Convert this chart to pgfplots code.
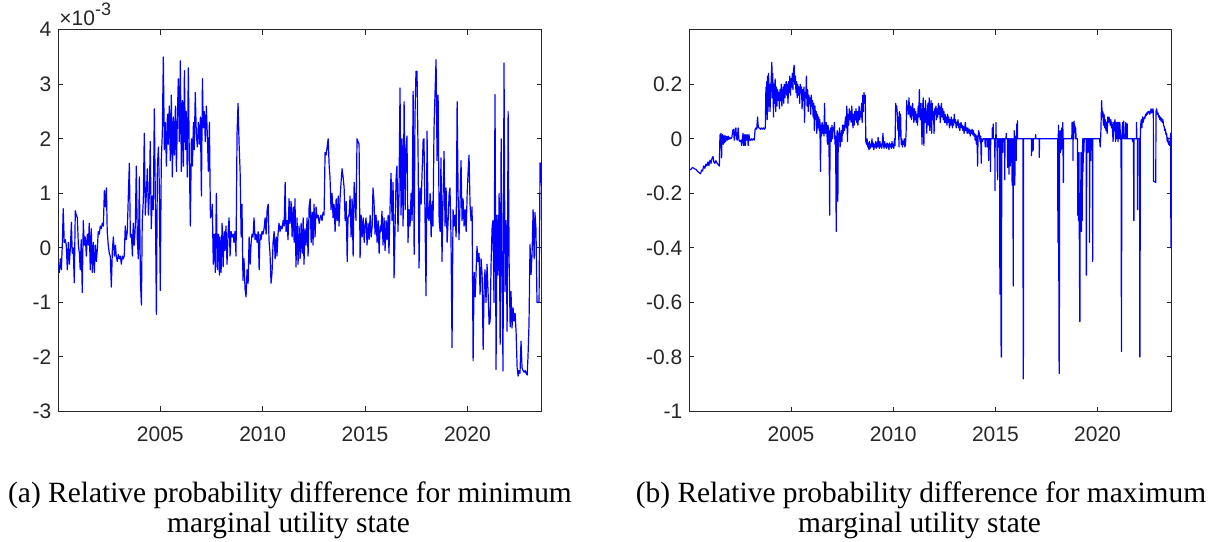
\documentclass[border=0pt]{standalone}
\usepackage{pgfplots}
\pgfplotsset{compat=1.18}
\usepackage{fontspec}
\setmainfont{Liberation Serif}
\newfontfamily\ticksans{Liberation Sans}
\definecolor{axgray}{rgb}{0.15,0.15,0.15}

\pgfplotsset{
  tsaxis/.style={
    scale only axis,
    anchor=north west,
    height=190.9pt,
    xmin=2000.02, xmax=2023.63,
    xtick={2005,2010,2015,2020},
    xticklabels={2005,2010,2015,2020},
    tick align=inside,
    major tick length=2.5pt,
    minor tick num=0,
    axis line style={draw=axgray, line width=0.5pt},
    every tick/.style={draw=axgray, line width=0.5pt},
    tick label style={font=\ticksans\fontsize{10.5}{12}\selectfont, text=axgray},
    xticklabel style={yshift=-4pt},
    clip=true,
  },
  tsline/.style={blue, line width=0.6pt, line join=round, mark=none},
}

\begin{document}
\begin{tikzpicture}
\useasboundingbox (0,0) rectangle (609.5pt,-270.5pt);

% ---------------- (a) minimum marginal utility state, values in units of 1e-3
\begin{axis}[tsaxis, at={(29.15pt,-14.85pt)}, width=241.7pt,
  ymin=-3, ymax=4, ytick={-3,-2,-1,0,1,2,3,4},
  yticklabels={-3,-2,-1,0,1,2,3,4}]
\addplot[tsline] coordinates {
(2000.02,-0.30)(2000.07,-0.45)(2000.12,-0.20)(2000.17,-0.40)(2000.22,0.10)(2000.26,0.72)(2000.31,0.10)(2000.36,0.15)
(2000.41,0.05)(2000.46,-0.40)(2000.51,0.10)(2000.56,-0.30)(2000.61,0.00)(2000.66,0.47)(2000.70,-0.10)(2000.75,0.00)
(2000.80,-0.64)(2000.85,0.68)(2000.90,0.60)(2000.95,0.55)(2001.00,0.05)(2001.05,-0.10)(2001.09,-0.40)(2001.14,0.15)
(2001.19,-0.82)(2001.24,0.50)(2001.29,0.05)(2001.34,0.20)(2001.39,-0.15)(2001.44,0.25)(2001.49,0.05)(2001.53,0.45)
(2001.58,-0.40)(2001.63,0.35)(2001.68,-0.45)(2001.73,0.10)(2001.78,-0.45)(2001.83,0.05)(2001.88,-0.25)(2001.93,0.00)
(2001.97,0.30)(2002.02,0.25)(2002.07,0.40)(2002.12,0.35)(2002.17,0.45)(2002.22,0.40)(2002.27,1.05)(2002.32,0.75)
(2002.37,1.10)(2002.41,0.30)(2002.46,0.05)(2002.51,-0.10)(2002.56,-0.15)(2002.61,-0.72)(2002.66,-0.05)(2002.71,0.20)
(2002.76,-0.15)(2002.81,0.05)(2002.85,-0.15)(2002.90,-0.25)(2002.95,-0.12)(2003.00,-0.20)(2003.05,-0.15)(2003.10,-0.30)
(2003.15,-0.15)(2003.20,-0.20)(2003.24,-0.15)(2003.29,0.40)(2003.34,0.15)(2003.39,0.30)(2003.44,0.95)(2003.49,1.55)
(2003.54,0.20)(2003.59,0.25)(2003.64,-0.15)(2003.68,0.45)(2003.73,0.05)(2003.78,0.40)(2003.83,1.50)(2003.88,0.15)
(2003.93,-0.20)(2003.98,1.30)(2004.03,-0.60)(2004.08,-1.05)(2004.12,0.50)(2004.17,0.85)(2004.22,2.10)(2004.27,0.60)
(2004.32,1.00)(2004.37,1.45)(2004.42,0.60)(2004.47,1.00)(2004.51,1.95)(2004.56,0.35)(2004.61,0.95)(2004.66,0.70)
(2004.71,2.55)(2004.76,0.90)(2004.81,-1.22)(2004.86,1.50)(2004.91,1.85)(2004.95,1.20)(2005.00,-0.78)(2005.05,1.60)
(2005.10,2.10)(2005.15,3.50)(2005.20,1.80)(2005.25,2.30)(2005.30,1.50)(2005.35,2.45)(2005.39,1.90)(2005.44,2.60)
(2005.49,1.60)(2005.54,2.80)(2005.59,1.30)(2005.64,2.40)(2005.69,1.70)(2005.74,2.60)(2005.79,1.40)(2005.83,2.30)
(2005.88,3.10)(2005.93,1.95)(2005.98,3.43)(2006.03,1.40)(2006.08,2.70)(2006.13,1.50)(2006.18,3.25)(2006.23,1.80)
(2006.27,2.50)(2006.32,1.30)(2006.37,3.30)(2006.42,1.60)(2006.47,0.40)(2006.52,2.00)(2006.57,1.50)(2006.62,2.30)
(2006.66,1.80)(2006.71,2.85)(2006.76,2.10)(2006.81,1.85)(2006.86,2.30)(2006.91,1.90)(2006.96,2.40)(2007.01,0.95)
(2007.06,3.10)(2007.10,2.20)(2007.15,2.50)(2007.20,1.95)(2007.25,2.60)(2007.30,2.05)(2007.35,1.40)(2007.40,2.30)
(2007.45,0.55)(2007.50,0.60)(2007.54,0.80)(2007.59,-0.30)(2007.64,0.25)(2007.69,-0.45)(2007.74,1.00)(2007.79,-0.40)
(2007.84,0.25)(2007.89,-0.50)
(2007.92,0.20)(2007.97,-0.45)(2008.02,0.45)(2008.07,-0.35)(2008.12,0.30)(2008.16,-0.05)(2008.21,0.40)(2008.26,-0.30)
(2008.31,0.25)(2008.36,0.55)(2008.41,-0.15)(2008.46,0.30)(2008.51,0.20)(2008.56,0.25)(2008.60,0.10)(2008.65,0.30)
(2008.70,-0.15)(2008.75,2.10)(2008.80,2.65)(2008.85,1.90)(2008.90,1.40)(2008.95,0.20)(2008.99,0.80)(2009.04,-0.60)
(2009.09,-0.20)(2009.14,-0.75)(2009.19,-0.90)(2009.24,-0.40)(2009.29,-0.65)(2009.34,0.20)(2009.39,-0.30)(2009.43,0.05)
(2009.48,0.25)(2009.53,0.20)(2009.58,0.55)(2009.63,0.15)(2009.68,0.25)(2009.73,0.10)(2009.78,0.30)(2009.83,-0.40)
(2009.87,0.25)(2009.92,0.15)(2009.97,0.30)(2010.02,0.25)(2010.07,0.35)(2010.12,0.55)(2010.17,0.25)(2010.22,0.70)
(2010.27,0.80)(2010.31,0.15)(2010.36,-0.10)(2010.41,-0.65)(2010.46,-0.45)(2010.51,0.10)(2010.56,0.30)(2010.61,-0.20)
(2010.66,0.20)(2010.70,-0.15)(2010.75,0.25)(2010.80,0.45)(2010.85,0.30)(2010.90,0.40)(2010.95,0.35)(2011.00,0.50)
(2011.05,0.40)(2011.10,1.20)(2011.14,0.30)(2011.19,0.50)(2011.24,0.15)(2011.29,0.90)(2011.34,0.45)(2011.39,0.85)
(2011.44,0.20)(2011.49,0.75)(2011.54,0.10)(2011.58,0.90)(2011.63,-0.35)(2011.68,0.55)(2011.73,-0.30)(2011.78,0.40)
(2011.83,-0.20)(2011.88,0.45)(2011.93,-0.10)(2011.98,0.55)(2012.02,-0.30)(2012.07,0.35)(2012.12,0.05)(2012.17,0.55)
(2012.22,-0.15)(2012.27,0.75)(2012.32,0.90)(2012.37,0.10)(2012.42,0.65)(2012.46,0.05)(2012.51,0.80)(2012.56,0.20)
(2012.61,0.75)(2012.66,0.55)(2012.71,0.60)(2012.76,0.45)(2012.81,0.55)(2012.85,0.60)(2012.90,0.50)(2012.95,0.65)
(2013.00,0.60)(2013.05,1.75)(2013.10,1.70)(2013.15,1.85)(2013.20,2.00)(2013.25,1.50)(2013.29,1.30)(2013.34,0.70)
(2013.39,1.00)(2013.44,0.55)(2013.49,0.80)(2013.54,0.30)(2013.59,0.90)(2013.64,0.50)(2013.69,0.95)(2013.73,0.40)
(2013.78,0.90)(2013.83,1.20)(2013.88,1.45)(2013.93,1.30)(2013.98,1.10)(2014.03,0.50)(2014.08,0.85)(2014.13,-0.25)
(2014.17,0.55)(2014.22,0.60)(2014.27,0.95)(2014.32,0.20)(2014.37,0.90)(2014.42,-0.15)(2014.47,1.20)(2014.52,0.80)
(2014.56,0.50)(2014.61,2.00)(2014.66,1.95)(2014.71,1.90)(2014.76,-0.18)(2014.81,0.60)(2014.86,0.20)(2014.91,0.55)
(2014.96,0.10)(2015.00,0.40)(2015.05,0.55)(2015.10,0.05)(2015.15,0.45)(2015.20,0.15)(2015.25,0.60)(2015.30,0.20)
(2015.35,0.40)(2015.39,1.10)(2015.44,0.85)(2015.49,0.25)(2015.54,0.60)(2015.59,0.10)(2015.64,0.50)(2015.69,-0.10)
(2015.74,0.40)
(2015.78,0.30)(2015.83,0.67)(2015.88,0.05)(2015.93,0.55)(2015.98,-0.05)(2016.03,0.50)(2016.08,0.15)(2016.13,0.60)
(2016.17,-0.10)(2016.22,0.70)(2016.27,1.37)(2016.32,0.50)(2016.37,1.20)(2016.42,-0.55)(2016.47,0.40)(2016.52,1.30)
(2016.56,1.50)(2016.61,0.30)(2016.66,1.00)(2016.71,2.93)(2016.76,0.60)(2016.81,2.00)(2016.86,0.40)(2016.91,2.68)
(2016.96,0.70)(2017.00,1.80)(2017.05,2.05)(2017.10,0.10)(2017.15,0.70)(2017.20,0.40)(2017.25,1.00)(2017.30,0.50)
(2017.35,2.87)(2017.40,-0.12)(2017.44,2.40)(2017.49,3.24)(2017.54,3.24)(2017.59,1.80)(2017.64,-0.37)(2017.69,1.10)
(2017.74,0.80)(2017.79,1.40)(2017.84,1.98)(2017.88,2.00)(2017.93,0.60)(2017.98,-0.88)(2018.03,2.14)(2018.08,0.55)
(2018.13,0.50)(2018.18,1.00)(2018.23,0.20)(2018.28,0.85)(2018.32,0.40)(2018.37,2.17)(2018.42,2.85)(2018.47,3.45)
(2018.52,1.60)(2018.57,2.80)(2018.62,0.50)(2018.67,0.30)(2018.71,1.65)(2018.76,-0.25)(2018.81,0.90)(2018.86,1.77)
(2018.91,0.40)(2018.96,1.10)(2019.01,0.10)(2019.06,0.50)(2019.11,1.00)(2019.15,1.10)(2019.20,0.20)(2019.25,-1.83)
(2019.30,0.70)(2019.35,0.40)(2019.40,0.60)(2019.45,0.20)(2019.50,2.68)(2019.55,0.90)(2019.59,0.15)(2019.64,0.80)
(2019.69,1.60)(2019.74,0.50)(2019.79,0.90)(2019.84,0.40)(2019.89,0.70)(2019.94,0.30)(2019.99,1.00)(2020.03,1.35)
(2020.08,1.70)(2020.13,0.80)(2020.18,0.50)(2020.23,0.75)(2020.28,-2.07)(2020.33,-0.45)(2020.38,-0.90)(2020.42,-0.50)
(2020.47,0.03)(2020.52,-0.25)(2020.57,-0.10)(2020.62,-0.85)(2020.67,-0.20)(2020.72,-0.50)(2020.77,-1.86)(2020.82,-0.70)
(2020.86,-0.40)(2020.91,-1.00)(2020.96,-0.30)(2021.01,-0.80)(2021.06,-1.40)(2021.11,-1.35)(2021.16,-0.25)(2021.21,0.40)
(2021.25,0.50)(2021.30,-1.00)(2021.35,2.81)(2021.40,-2.23)(2021.45,0.60)(2021.50,-0.50)(2021.55,1.00)(2021.60,-1.77)
(2021.65,2.00)(2021.69,-0.30)(2021.74,-2.26)(2021.79,3.39)(2021.84,-0.80)(2021.89,0.50)(2021.94,-1.53)(2021.99,2.50)
(2022.04,-0.30)(2022.09,-1.45)(2022.13,-0.80)(2022.18,-1.47)(2022.23,-1.10)(2022.28,-1.34)(2022.33,-1.20)(2022.38,-1.55)
(2022.43,-2.20)(2022.48,-2.35)(2022.52,-2.25)(2022.57,-2.30)(2022.62,-1.71)(2022.67,-2.20)(2022.72,-2.25)(2022.77,-2.28)
(2022.82,-2.25)(2022.87,-2.30)(2022.92,-2.33)(2022.96,-2.00)(2023.01,-1.40)(2023.06,0.06)(2023.11,-0.49)(2023.16,-0.10)
(2023.21,0.70)(2023.26,-0.20)(2023.30,0.65)(2023.35,0.35)(2023.40,-1.00)(2023.45,-1.00)(2023.50,-1.00)(2023.55,1.56)
(2023.60,1.20)(2023.62,1.55)(2023.63,0.80)
};
\end{axis}

% ---------------- (b) maximum marginal utility state
\begin{axis}[tsaxis, at={(344.65pt,-14.85pt)}, width=241.2pt,
  ymin=-1, ymax=0.4, ytick={-1,-0.8,-0.6,-0.4,-0.2,0,0.2},
  yticklabels={-1,-0.8,-0.6,-0.4,-0.2,0,0.2}]
\addplot[tsline] coordinates {
(2000.02,-0.115)(2000.10,-0.112)(2000.18,-0.105)(2000.27,-0.110)(2000.35,-0.112)(2000.43,-0.120)(2000.51,-0.125)(2000.57,-0.128)
(2000.62,-0.115)(2000.67,-0.118)(2000.72,-0.100)(2000.78,-0.108)(2000.83,-0.093)(2000.88,-0.100)(2000.93,-0.085)(2000.98,-0.098)
(2001.03,-0.078)(2001.08,-0.090)(2001.13,-0.072)(2001.18,-0.065)(2001.22,-0.085)(2001.27,-0.090)(2001.32,-0.080)(2001.38,-0.090)
(2001.44,-0.095)(2001.49,-0.100)(2001.52,0.015)(2001.55,-0.010)(2001.57,0.020)(2001.60,-0.070)(2001.62,-0.005)(2001.65,0.015)
(2001.68,-0.020)(2001.71,0.010)(2001.74,-0.015)(2001.77,0.012)(2001.80,-0.010)(2001.84,0.008)(2001.88,-0.005)(2001.92,0.010)
(2001.96,-0.002)(2002.00,0.005)(2002.05,0.000)(2002.10,0.005)(2002.15,0.030)(2002.18,0.035)(2002.22,-0.005)(2002.27,0.035)
(2002.30,0.040)(2002.33,0.000)(2002.37,-0.005)(2002.41,0.040)(2002.45,-0.005)(2002.50,-0.010)(2002.55,-0.005)(2002.58,-0.025)
(2002.61,-0.005)(2002.65,0.020)(2002.68,-0.025)(2002.72,0.015)(2002.76,-0.025)(2002.79,0.015)(2002.83,-0.005)(2002.87,0.015)
(2002.90,-0.025)(2002.94,0.015)(2002.98,-0.005)(2003.02,-0.005)(2003.06,0.000)(2003.10,-0.005)(2003.15,0.000)(2003.20,-0.005)
(2003.24,0.035)(2003.28,0.040)(2003.32,0.035)(2003.36,0.080)(2003.40,0.040)(2003.45,0.040)(2003.50,0.035)(2003.55,0.040)
(2003.60,0.035)(2003.65,0.040)(2003.70,0.035)(2003.74,0.040)(2003.77,0.190)(2003.79,0.090)(2003.81,0.210)(2003.83,0.070)
(2003.85,0.230)(2003.87,0.100)(2003.90,0.240)(2003.92,0.120)(2003.95,0.200)(2003.97,0.100)(2004.00,0.170)(2004.03,0.220)
(2004.06,0.280)(2004.08,0.150)(2004.10,0.240)(2004.12,0.180)(2004.14,0.080)(2004.17,0.200)(2004.20,0.130)(2004.22,0.220)
(2004.25,0.100)(2004.28,0.190)(2004.31,0.120)(2004.34,0.180)(2004.37,0.140)(2004.40,0.170)(2004.43,0.110)(2004.46,0.180)
(2004.49,0.140)(2004.52,0.200)(2004.55,0.120)(2004.58,0.160)(2004.61,0.190)(2004.64,0.130)(2004.67,0.200)(2004.70,0.150)
(2004.73,0.190)(2004.76,0.210)(2004.79,0.160)(2004.82,0.200)(2004.85,0.130)(2004.88,0.210)(2004.91,0.170)(2004.94,0.230)
(2004.97,0.160)(2005.00,0.220)(2005.03,0.190)(2005.06,0.240)(2005.09,0.180)(2005.12,0.250)(2005.15,0.270)(2005.18,0.200)
(2005.21,0.230)(2005.24,0.170)(2005.27,0.210)(2005.30,0.150)(2005.33,0.200)(2005.36,0.160)(2005.39,0.190)(2005.42,0.130)
(2005.45,0.200)(2005.48,0.170)(2005.51,0.190)(2005.54,0.110)(2005.57,0.180)(2005.60,0.140)(2005.63,0.190)(2005.66,0.060)
(2005.69,0.170)(2005.72,0.150)(2005.75,0.230)(2005.78,0.120)(2005.81,0.180)(2005.84,0.100)(2005.87,0.160)(2005.90,0.130)
(2005.93,0.150)(2005.96,0.090)(2005.99,0.160)(2006.02,0.120)(2006.05,0.140)(2006.08,0.080)(2006.11,0.130)(2006.14,0.030)
(2006.17,0.120)(2006.20,0.070)(2006.23,0.100)(2006.26,0.020)(2006.29,0.090)(2006.32,0.040)(2006.35,0.080)(2006.38,0.030)
(2006.41,0.070)(2006.44,-0.120)(2006.46,0.050)(2006.49,0.010)(2006.52,0.060)(2006.55,0.020)(2006.58,0.050)(2006.61,0.010)
(2006.64,0.130)(2006.66,0.040)(2006.69,0.020)(2006.72,0.060)(2006.75,0.030)(2006.78,-0.020)(2006.81,0.050)(2006.84,0.020)
(2006.87,-0.100)(2006.89,-0.280)(2006.91,0.030)(2006.94,0.040)(2006.97,-0.010)(2007.00,0.050)(2007.03,0.000)(2007.06,0.040)
(2007.09,0.030)(2007.12,0.060)(2007.15,-0.020)(2007.18,0.010)(2007.21,-0.340)(2007.23,0.000)(2007.26,0.030)(2007.29,-0.230)
(2007.31,0.020)(2007.34,-0.010)(2007.37,0.040)(2007.40,-0.030)(2007.43,0.000)(2007.46,0.030)(2007.49,-0.010)(2007.52,0.050)
(2007.55,0.020)(2007.58,0.050)(2007.61,0.030)(2007.64,0.060)(2007.67,0.080)(2007.70,0.040)(2007.73,0.120)(2007.76,-0.010)
(2007.79,0.090)(2007.82,0.050)(2007.85,0.110)(2007.88,0.070)(2007.91,0.100)(2007.94,0.060)(2007.97,0.120)(2008.00,0.080)
(2008.03,0.040)(2008.06,0.090)(2008.09,0.050)(2008.12,0.100)(2008.15,0.070)(2008.18,0.110)(2008.21,0.060)(2008.24,0.100)
(2008.27,0.050)(2008.30,0.080)(2008.33,0.120)(2008.36,0.070)(2008.39,0.100)(2008.42,0.080)(2008.45,0.130)(2008.48,0.060)
(2008.51,0.160)(2008.54,0.100)(2008.57,0.170)(2008.60,0.140)(2008.63,0.160)(2008.66,-0.010)(2008.69,-0.020)(2008.72,0.000)
(2008.75,-0.030)(2008.78,-0.015)(2008.81,-0.040)(2008.84,-0.010)(2008.87,-0.035)(2008.90,-0.020)(2008.93,-0.030)(2008.96,0.000)
(2008.99,-0.030)(2009.02,-0.015)(2009.05,-0.040)(2009.08,-0.020)(2009.11,-0.030)(2009.14,-0.010)(2009.17,-0.035)(2009.20,-0.015)
(2009.23,-0.030)(2009.26,0.005)(2009.29,-0.020)(2009.32,-0.035)(2009.35,-0.010)(2009.38,-0.030)(2009.41,-0.020)(2009.44,-0.035)
(2009.47,-0.010)(2009.50,0.020)(2009.52,-0.020)(2009.55,-0.035)(2009.58,-0.010)(2009.61,-0.030)(2009.64,-0.020)(2009.67,-0.035)
(2009.70,-0.015)(2009.73,-0.030)(2009.76,-0.020)(2009.79,-0.040)(2009.82,-0.015)(2009.85,-0.030)(2009.88,-0.020)(2009.91,-0.035)
(2009.94,-0.010)(2009.97,-0.030)(2010.00,-0.020)(2010.03,-0.035)(2010.06,0.000)(2010.09,-0.025)(2010.12,0.130)(2010.14,0.100)
(2010.17,0.120)(2010.20,0.090)(2010.23,0.030)(2010.26,0.080)(2010.28,-0.030)(2010.30,0.100)(2010.33,0.010)(2010.36,0.090)
(2010.39,-0.020)(2010.42,0.000)(2010.45,-0.030)(2010.48,-0.010)(2010.51,-0.020)(2010.54,0.000)(2010.57,-0.030)(2010.60,-0.020)
(2010.63,0.020)(2010.66,0.140)(2010.68,0.110)(2010.71,0.120)(2010.74,0.090)(2010.77,0.150)(2010.80,0.100)(2010.83,0.080)
(2010.86,0.120)(2010.89,0.070)(2010.92,0.100)(2010.95,0.130)(2010.98,0.090)(2011.01,0.060)(2011.04,0.110)(2011.07,0.070)
(2011.10,0.100)(2011.13,0.060)(2011.16,0.090)(2011.19,0.050)(2011.22,0.120)(2011.25,0.080)(2011.28,0.180)(2011.30,0.100)
(2011.33,0.070)(2011.36,0.130)(2011.39,0.040)(2011.41,-0.020)(2011.44,0.120)(2011.47,0.150)(2011.50,-0.025)(2011.52,0.110)
(2011.55,0.060)(2011.58,0.140)(2011.61,0.080)(2011.64,0.020)(2011.67,0.100)(2011.70,0.130)(2011.73,0.050)(2011.76,0.150)
(2011.79,0.030)(2011.82,0.100)(2011.85,0.140)(2011.88,0.020)(2011.91,0.130)(2011.94,0.070)(2011.97,0.100)(2012.00,0.020)
(2012.03,0.110)(2012.06,0.090)(2012.09,0.120)(2012.12,0.070)(2012.15,0.110)(2012.18,0.080)(2012.21,0.130)(2012.24,0.090)
(2012.27,0.120)(2012.30,0.060)(2012.33,0.100)(2012.36,0.130)(2012.39,0.080)(2012.42,0.110)(2012.45,0.070)(2012.48,0.100)
(2012.51,0.060)(2012.54,0.090)(2012.57,0.060)(2012.60,0.080)(2012.63,0.050)(2012.66,0.090)(2012.69,0.060)(2012.72,0.080)
(2012.75,0.040)(2012.78,0.070)(2012.81,0.050)(2012.84,0.080)(2012.87,0.060)(2012.90,0.040)(2012.93,0.070)(2012.96,0.050)
(2012.99,0.090)(2013.02,0.060)(2013.05,0.070)(2013.08,0.040)(2013.11,0.060)(2013.14,0.050)(2013.17,0.070)(2013.20,0.040)
(2013.23,0.055)(2013.26,0.030)(2013.29,0.050)(2013.32,0.060)(2013.35,0.040)(2013.38,0.050)(2013.41,0.030)(2013.44,0.045)
(2013.47,0.020)(2013.50,0.040)(2013.53,0.060)(2013.56,0.030)(2013.59,0.040)(2013.62,0.020)(2013.65,0.040)(2013.68,0.030)
(2013.71,0.020)(2013.74,0.035)(2013.77,0.010)(2013.80,0.030)(2013.83,0.020)(2013.86,0.035)(2013.89,0.015)(2013.92,0.030)
(2013.95,0.010)(2013.98,0.020)(2014.01,-0.005)(2014.04,0.015)(2014.07,-0.020)(2014.10,0.010)(2014.13,-0.100)(2014.15,0.000)
(2014.18,0.030)(2014.21,0.020)(2014.25,-0.010)(2014.28,0.010)(2014.31,-0.090)(2014.33,0.000)(2014.37,-0.010)(2014.40,0.000)
(2014.43,0)(2014.49,0)(2014.50,-0.03)(2014.51,0)(2014.58,0)(2014.59,-0.03)(2014.60,0)(2014.66,0)(2014.67,-0.08)(2014.68,0)
(2014.75,0)(2014.76,-0.12)(2014.77,0)(2014.84,0)(2014.85,0.04)(2014.86,0)(2014.88,0)(2014.89,0.055)(2014.90,0)(2014.97,0)
(2014.98,-0.19)(2014.99,0)(2015.02,0)(2015.03,0.06)(2015.04,0)(2015.08,0)(2015.09,-0.12)(2015.10,0)(2015.11,-0.15)(2015.12,0)
(2015.16,0)(2015.17,-0.03)(2015.18,0)(2015.21,0)(2015.22,-0.57)(2015.23,-0.10)(2015.24,-0.56)(2015.25,0)(2015.27,0)(2015.28,-0.80)
(2015.29,-0.05)(2015.30,-0.80)(2015.31,0)(2015.36,0)(2015.37,-0.05)(2015.38,0)(2015.45,0)(2015.46,-0.15)(2015.47,0)(2015.52,0)
(2015.53,0.02)(2015.54,0)(2015.59,0)(2015.60,-0.105)(2015.61,0)(2015.66,0)(2015.67,-0.13)(2015.68,-0.02)(2015.69,-0.09)(2015.70,0)
(2015.73,-0.10)(2015.74,0)(2015.78,-0.05)(2015.79,0)(2015.82,-0.17)(2015.83,0)(2015.86,0)(2015.87,-0.54)(2015.88,-0.02)(2015.89,0)
(2015.91,-0.07)(2015.92,0.03)(2015.93,0)(2015.95,-0.17)(2015.96,-0.10)(2015.97,0)(2016.00,0.01)(2016.02,-0.08)(2016.03,0)(2016.05,0.055)
(2016.06,0)(2016.08,0.066)(2016.09,0)(2016.35,0)(2016.36,-0.88)(2016.37,-0.88)(2016.38,0)(2016.76,0)(2016.77,-0.062)(2016.79,0)
(2016.82,0)(2016.83,-0.044)(2016.85,-0.04)(2016.86,0)(2016.96,0)(2016.97,0.015)(2016.98,0)(2017.14,0)(2017.15,-0.068)(2017.16,0)
(2018.05,0)(2018.06,-0.38)(2018.07,-0.02)(2018.09,0.05)(2018.10,-0.38)(2018.12,-0.86)(2018.13,-0.86)(2018.14,0)(2018.17,0.03)(2018.19,-0.05)
(2018.21,0.02)(2018.23,-0.04)(2018.25,0.04)(2018.27,0)(2018.30,0.06)(2018.31,0)(2018.32,-0.16)(2018.33,-0.16)(2018.34,0)(2018.74,0)
(2018.75,0.06)(2018.77,0.02)(2018.79,0.06)(2018.80,-0.08)(2018.81,0.05)(2018.83,0.02)(2018.85,0.065)(2018.87,0.03)(2018.89,0.05)(2018.91,0)
(2018.93,0.04)(2018.95,0)(2019.02,0)(2019.03,-0.28)(2019.05,-0.10)(2019.07,-0.30)(2019.09,-0.05)(2019.11,-0.38)(2019.13,-0.67)(2019.14,-0.67)
(2019.15,-0.20)(2019.17,-0.32)(2019.19,-0.05)(2019.21,-0.34)(2019.23,-0.08)(2019.25,-0.30)(2019.27,0)(2019.29,-0.12)(2019.31,0)(2019.33,-0.05)
(2019.35,0)(2019.44,0)(2019.45,-0.50)(2019.46,-0.50)(2019.47,0)(2019.52,0)(2019.53,-0.05)(2019.54,0)(2019.60,0)(2019.61,-0.38)
(2019.62,0)(2019.66,0)(2019.67,-0.08)(2019.68,0)(2019.75,0)(2019.76,-0.45)(2019.77,0)(2020.10,0)(2020.13,-0.03)(2020.16,0.02)
(2020.20,0.14)(2020.23,0.08)(2020.26,0.10)(2020.29,0.05)(2020.32,0.09)(2020.35,0.04)(2020.38,0.07)(2020.41,0.03)(2020.44,0.06)(2020.47,0.02)
(2020.50,0.08)(2020.53,0.06)(2020.56,0.08)(2020.59,0.07)(2020.62,0.05)(2020.65,0.07)(2020.68,0.04)(2020.71,0.06)(2020.74,0.02)(2020.76,-0.01)
(2020.79,0.06)(2020.82,0.03)(2020.85,0.07)(2020.88,-0.01)(2020.91,0.06)(2020.94,0.00)(2020.97,0.06)(2021.00,-0.01)(2021.03,0.06)(2021.06,0.00)
(2021.09,0.06)(2021.12,0.01)(2021.15,-0.01)(2021.17,-0.78)(2021.19,0.00)(2021.22,0.06)(2021.25,0.00)(2021.28,0.065)(2021.31,0)(2021.37,0)
(2021.38,0.06)(2021.39,0)(2021.44,0)(2021.45,0.055)(2021.46,0)(2021.70,0)(2021.71,-0.01)(2021.72,0)(2021.76,0)(2021.77,-0.30)
(2021.78,-0.30)(2021.79,0)(2021.90,0)(2021.91,0.06)(2021.92,0)(2021.95,0)(2021.96,-0.26)(2021.97,-0.26)(2021.98,0)(2022.06,0)
(2022.07,-0.80)(2022.08,-0.80)(2022.09,0)(2022.11,0.05)(2022.14,0.07)(2022.17,0.04)(2022.20,0.08)(2022.23,0.06)(2022.26,0.07)(2022.29,0.08)
(2022.32,0.075)(2022.35,0.09)(2022.38,0.085)(2022.41,0.095)(2022.44,0.09)(2022.47,0.10)(2022.50,0.095)(2022.53,0.10)(2022.56,0.09)(2022.59,0.10)
(2022.62,0.11)(2022.65,0.095)(2022.68,0.10)(2022.71,0.11)(2022.73,0.10)(2022.74,-0.155)(2022.85,-0.16)(2022.86,0.10)(2022.89,0.11)(2022.91,0.10)
(2022.93,0.09)(2022.96,0.095)(2022.99,0.08)(2023.02,0.085)(2023.05,0.07)(2023.08,0.08)(2023.11,0.065)(2023.14,0.075)(2023.17,0.06)(2023.20,0.07)
(2023.23,0.05)(2023.26,0.045)(2023.29,0.03)(2023.32,0.035)(2023.35,0.015)(2023.38,0.02)(2023.41,-0.01)(2023.44,0.005)(2023.47,-0.02)(2023.50,-0.01)
(2023.53,-0.025)(2023.56,0.0)(2023.58,0.02)(2023.59,-0.40)(2023.63,-0.40)
};
\end{axis}

% exponent of the left y axis
\node[anchor=base west, inner sep=0pt, text=axgray,
      font=\ticksans\fontsize{10.5}{12}\selectfont] at (29.5pt,-12.5pt)
  {×10\raisebox{5pt}{\fontsize{9}{10}\selectfont -3}};

% sub-captions
\begin{scope}[every node/.style={anchor=base, inner sep=0pt,
    font=\fontsize{14.7}{16}\selectfont}]
\node at (145pt,-251pt) {(a) Relative probability difference for minimum};
\node at (144.3pt,-266pt) {marginal utility state};
\node at (460.5pt,-251pt) {(b) Relative probability difference for maximum};
\node at (459.8pt,-266pt) {marginal utility state};
\end{scope}
\end{tikzpicture}
\end{document}
